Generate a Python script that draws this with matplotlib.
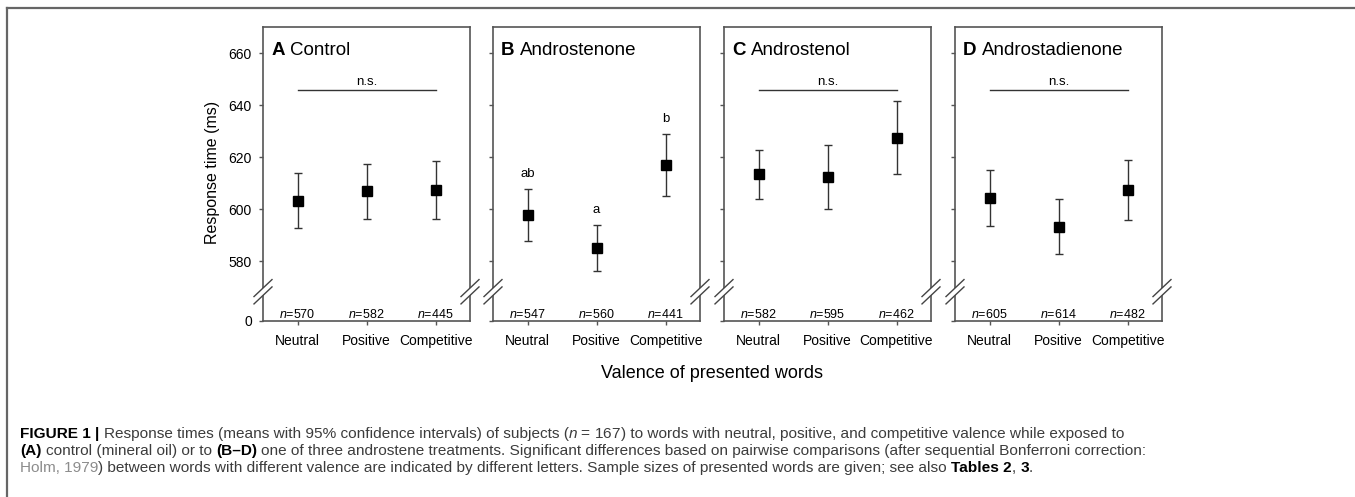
import matplotlib
matplotlib.use("Agg")
import matplotlib.pyplot as plt
from matplotlib.lines import Line2D
from matplotlib.patches import Polygon
import numpy as np

plt.rcParams['font.family'] = ['Liberation Sans', 'DejaVu Sans']
plt.rcParams['mathtext.fontset'] = 'custom'
plt.rcParams['mathtext.rm'] = 'Liberation Sans'
plt.rcParams['mathtext.it'] = 'Liberation Sans:italic'

# data
categories = ['Neutral', 'Positive', 'Competitive']
panel_letters = ['A', 'B', 'C', 'D']
panel_names = ['Control', 'Androstenone', 'Androstenol', 'Androstadienone']

means_A = [603.2, 606.9, 607.3]
lo_A = [592.8, 596.3, 596.2]
hi_A = [613.9, 617.5, 618.5]

means_B = [597.8, 585.0, 617.0]
lo_B = [587.6, 576.3, 605.2]
hi_B = [607.8, 594.0, 628.7]

means_C = [613.5, 612.3, 627.5]
lo_C = [603.8, 600.1, 613.5]
hi_C = [622.7, 624.6, 641.7]

means_D = [604.3, 593.3, 607.4]
lo_D = [593.5, 582.9, 595.9]
hi_D = [615.0, 603.7, 618.8]

n_A = [570, 582, 445]
n_B = [547, 560, 441]
n_C = [582, 595, 462]
n_D = [605, 614, 482]

sig_A = None
sig_B = ['ab', 'a', 'b']
sig_C = None
sig_D = None
ns_level = 645.9

ytick_vals = [580, 600, 620, 640, 660]
y_zero_pos = 557    # where the broken axis puts 0
y_top = 670

panels = [
    (means_A, lo_A, hi_A, n_A, sig_A),
    (means_B, lo_B, hi_B, n_B, sig_B),
    (means_C, lo_C, hi_C, n_C, sig_C),
    (means_D, lo_D, hi_D, n_D, sig_D),
]

W, H = 1355, 497
fig = plt.figure(figsize=(W / 100, H / 100), dpi=100)

spine_col = '#555555'
lefts = [263, 493, 724, 955]
x = np.arange(len(categories))

for i, (m, lo, hi, nn, sig) in enumerate(panels):
    ax = fig.add_axes([lefts[i] / W, 1 - 321 / H, 207 / W, 294 / H])
    m = np.array(m)
    yerr = [m - np.array(lo), np.array(hi) - m]
    ax.errorbar(x, m, yerr=yerr, fmt='s', ms=7, mfc='black', mec='black',
                ecolor='#333333', elinewidth=1, capsize=3.2, capthick=1, zorder=3)
    ax.set_xlim(-0.5, 2.5)
    ax.set_ylim(y_zero_pos, y_top)
    ax.set_xticks(x)
    ax.set_xticklabels(categories, fontsize=10)
    ax.set_yticks([y_zero_pos] + ytick_vals)
    if i == 0:
        ax.set_yticklabels(['0'] + [str(v) for v in ytick_vals], fontsize=10)
    else:
        ax.set_yticklabels([])
    for s in ax.spines.values():
        s.set_color(spine_col)
        s.set_linewidth(1.2)
    ax.tick_params(direction='out', length=3, width=1, color=spine_col, pad=5)
    ax.tick_params(axis='x', pad=6.5)

    # panel title
    t = ax.text(0.039, 0.905, panel_letters[i], transform=ax.transAxes,
                fontsize=13.5, fontweight='bold', va='baseline', ha='left')
    ax.annotate(panel_names[i], xy=(1, 0), xycoords=t, xytext=(4, 0),
                textcoords='offset points', fontsize=13.5, va='bottom', ha='left')

    # significance
    if sig is None:
        ax.plot([x[0], x[-1]], [ns_level, ns_level], color='#333333', lw=1)
        ax.text(1, ns_level + 3.0, 'n.s.', ha='center', va='center', fontsize=9.5)
    else:
        for xi, h, s in zip(x, hi, sig):
            ax.text(xi, h + 5.8, s, ha='center', va='center', fontsize=9.5)

    # sample sizes
    for xi, n in zip(x, nn):
        ax.text(xi, 558, r'$n$=' + str(n), ha='center', va='baseline', fontsize=9)

    # axis break marks
    dx, dy = 9 / 207, 8.5 / 294
    y1, y2 = 0.112, 0.087
    for xc in (0, 1):
        ax.add_patch(Polygon([(xc - dx, y2 - dy), (xc + dx, y2 + dy),
                              (xc + dx, y1 + dy), (xc - dx, y1 - dy)],
                             closed=True, fc='white', ec='none',
                             transform=ax.transAxes, clip_on=False, zorder=5))
        for yc in (y1, y2):
            ax.plot([xc - dx, xc + dx], [yc - dy, yc + dy], color='#444444',
                    lw=1, transform=ax.transAxes, clip_on=False, zorder=6)

fig.text(213 / W, 1 - 172 / H, 'Response time (ms)', rotation=90,
         ha='center', va='center', fontsize=11.5)
fig.text(712 / W, 1 - 373 / H, 'Valence of presented words',
         ha='center', va='center', fontsize=13)

# outer frame
fig.add_artist(Line2D([7 / W, 1], [1 - 8 / H, 1 - 8 / H], color='#666666', lw=1.6))
fig.add_artist(Line2D([7 / W, 7 / W], [0, 1 - 8 / H], color='#666666', lw=1.6))

# caption
dark, light = '#3c3c3c', '#8c8c8c'
cap_size = 11.1
caption = [
    [('FIGURE 1 | ', 'bold', 'black'),
     ('Response times (means with 95% confidence intervals) of subjects (', 'normal', dark),
     (r'$n$ = 167', 'normal', dark),
     (') to words with neutral, positive, and competitive valence while exposed to', 'normal', dark)],
    [('(A)', 'bold', 'black'),
     (' control (mineral oil) or to ', 'normal', dark),
     ('(B–D)', 'bold', 'black'),
     (' one of three androstene treatments. Significant differences based on pairwise comparisons (after sequential Bonferroni correction:', 'normal', dark)],
    [('Holm, 1979', 'normal', light),
     (') between words with different valence are indicated by different letters. Sample sizes of presented words are given; see also ', 'normal', dark),
     ('Tables 2', 'bold', 'black'),
     (', ', 'normal', dark),
     ('3', 'bold', 'black'),
     ('.', 'normal', dark)],
]
baselines = [438, 455, 472]

renderer = fig.canvas.get_renderer()


def space_width(weight):
    a = fig.text(0, 0, 'x x', fontsize=cap_size, fontweight=weight)
    b = fig.text(0, 0, 'xx', fontsize=cap_size, fontweight=weight)
    w = a.get_window_extent(renderer).width - b.get_window_extent(renderer).width
    a.remove()
    b.remove()
    return w


sw = {'normal': space_width('normal'), 'bold': space_width('bold')}

for line, yb in zip(caption, baselines):
    xpos = 20.0
    for s, weight, col in line:
        lead = len(s) - len(s.lstrip(' '))
        trail = len(s) - len(s.rstrip(' '))
        xpos += lead * sw[weight]
        core = s.strip(' ')
        if core:
            t = fig.text(xpos / W, 1 - yb / H, core, fontsize=cap_size,
                         fontweight=weight, color=col, ha='left', va='baseline')
            xpos += t.get_window_extent(renderer).width
        xpos += trail * sw[weight]

fig.savefig('out.png', dpi=100)
